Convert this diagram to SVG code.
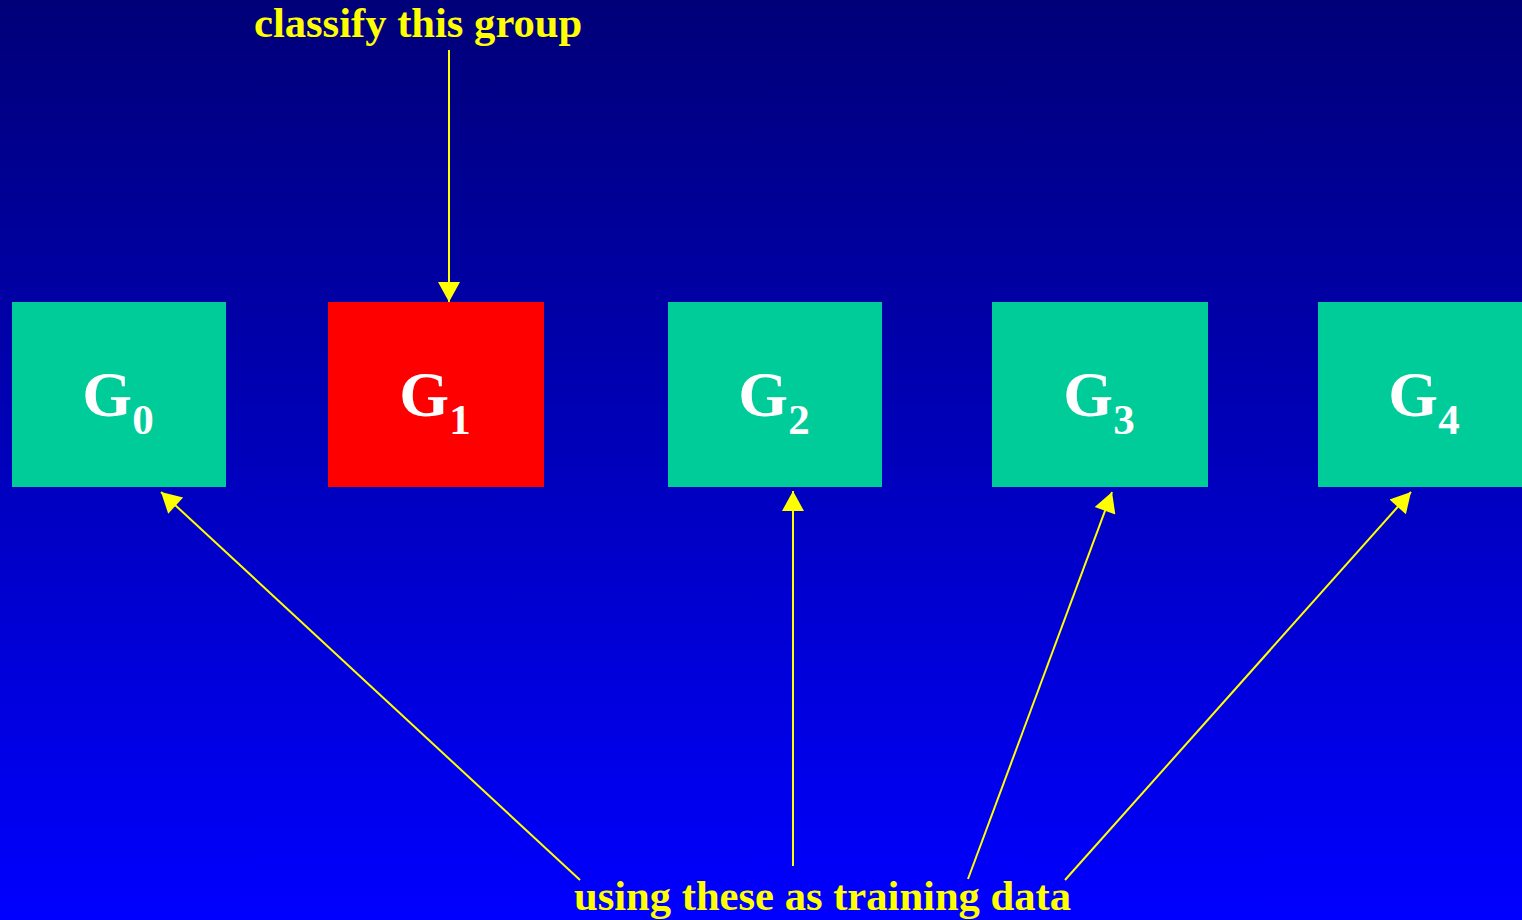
<svg xmlns="http://www.w3.org/2000/svg" width="1522" height="920" viewBox="0 0 1522 920">
  <defs>
    <linearGradient id="bg" x1="0" y1="0" x2="0" y2="1">
      <stop offset="0" stop-color="#000078"/>
      <stop offset="1" stop-color="#0000FF"/>
    </linearGradient>
    <marker id="head" markerUnits="userSpaceOnUse" markerWidth="22" markerHeight="22" viewBox="0 0 20 22" refX="20" refY="11" orient="auto">
      <path d="M0,0 L20,11 L0,22 Z" fill="#FFFF00"/>
    </marker>
    <style>
      .box { stroke: none; }
      .train { fill: #00CC99; }
      .test { fill: #FF0000; }
      .lbl { font-family: "Liberation Serif", "Times New Roman", serif; font-weight: bold; fill: #FFFFFF; font-size: 64px; }
      .sub { font-size: 43px; }
      .note { font-family: "Liberation Serif", "Times New Roman", serif; font-weight: bold; fill: #FFFF00; font-size: 42.6px; }
      .link { stroke: #FFFF00; stroke-width: 2; fill: none; marker-end: url(#head); }
    </style>
  </defs>

  <rect x="0" y="0" width="1522" height="920" fill="url(#bg)"/>

  <!-- groups -->
  <g id="g0">
    <rect class="box train" x="12" y="302" width="214" height="185"/>
    <text class="lbl" x="118" y="416" text-anchor="middle">G<tspan class="sub" dy="18">0</tspan></text>
  </g>
  <g id="g1">
    <rect class="box test" x="328" y="302" width="216" height="185"/>
    <text class="lbl" x="435" y="416" text-anchor="middle">G<tspan class="sub" dy="18">1</tspan></text>
  </g>
  <g id="g2">
    <rect class="box train" x="668" y="302" width="214" height="185"/>
    <text class="lbl" x="774" y="416" text-anchor="middle">G<tspan class="sub" dy="18">2</tspan></text>
  </g>
  <g id="g3">
    <rect class="box train" x="992" y="302" width="216" height="185"/>
    <text class="lbl" x="1099" y="416" text-anchor="middle">G<tspan class="sub" dy="18">3</tspan></text>
  </g>
  <g id="g4">
    <rect class="box train" x="1318" y="302" width="214" height="185"/>
    <text class="lbl" x="1424" y="416" text-anchor="middle">G<tspan class="sub" dy="18">4</tspan></text>
  </g>

  <!-- captions -->
  <g id="caption-top">
    <text class="note" x="254" y="37">classify this group</text>
  </g>
  <g id="caption-bottom">
    <text class="note" x="574" y="910">using these as training data</text>
  </g>

  <!-- connectors -->
  <g id="connectors">
    <line class="link" x1="449" y1="50" x2="449" y2="302"/>
    <line class="link" x1="580" y1="880" x2="161" y2="492"/>
    <line class="link" x1="793" y1="866" x2="793" y2="491"/>
    <line class="link" x1="968" y1="879" x2="1112" y2="492"/>
    <line class="link" x1="1065" y1="880" x2="1411" y2="492"/>
  </g>
</svg>
